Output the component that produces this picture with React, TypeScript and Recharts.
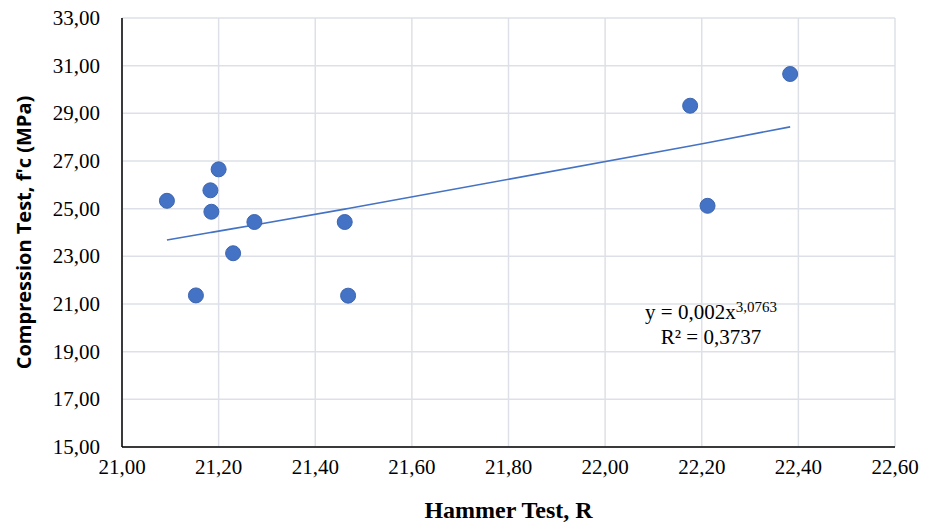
import {
  CartesianGrid,
  Scatter,
  ScatterChart,
  XAxis,
  YAxis,
} from "recharts";

// Rebound hammer reading (R) vs. cylinder compressive strength (MPa)
const hammerR = [
  21.093, 21.2, 21.183, 21.185, 21.274, 21.23, 21.153, 21.461, 21.468, 22.176,
  22.212, 22.383,
];
const strengthFc = [
  25.33, 26.65, 25.77, 24.87, 24.44, 23.13, 21.36, 24.44, 21.35, 29.32, 25.12,
  30.65,
];

const xTicks = [21.0, 21.2, 21.4, 21.6, 21.8, 22.0, 22.2, 22.4, 22.6];
const yTicks = [15, 17, 19, 21, 23, 25, 27, 29, 31, 33];

// power trendline reported on the chart: y = 0,002 x^3,0763
const trendA = 0.002;
const trendB = 3.0763;
const trendR2 = "0,3737";

const points = hammerR.map((x, i) => ({ x, y: strengthFc[i] }));

const trendPoints = [...hammerR]
  .sort((a, b) => a - b)
  .map((x) => ({ x, y: trendA * Math.pow(x, trendB) }));

const fmt = (v: number) => v.toFixed(2).replace(".", ",");

const BLUE = "#4472c4";
const serif = "'Liberation Serif', 'Times New Roman', serif";
const tickStyle = { fontSize: "21px", fontFamily: serif, fill: "#000" };

function Dot(props: any) {
  const { cx, cy } = props;
  if (cx == null || cy == null) return null;
  return (
    <circle cx={cx} cy={cy} r={7.5} fill={BLUE} stroke="#3d66b0" strokeWidth={1} />
  );
}

// tick labels drawn as plain svg text at the axis-supplied positions
const renderXTick = (props: any) => (
  <g key={`xt-${props.index}`} transform={`translate(${props.x},${props.y})`}>
    <text x={0} y={27} textAnchor="middle" style={tickStyle}>
      {fmt(props.payload.value)}
    </text>
  </g>
);

const renderYTick = (props: any) => (
  <g key={`yt-${props.index}`} transform={`translate(${props.x},${props.y})`}>
    <text x={0} y={7} textAnchor="end" style={tickStyle}>
      {fmt(props.payload.value)}
    </text>
  </g>
);

export default function App() {
  return (
    <div
      style={{
        position: "absolute",
        left: 0,
        top: 0,
        width: 931,
        height: 527,
        background: "#fff",
      }}
    >
      <ScatterChart
        width={931}
        height={527}
        margin={{ top: 18, right: 36, bottom: 0, left: 0 }}
      >
        <CartesianGrid stroke="#dde1e7" strokeWidth={1.5} />
        <XAxis
          type="number"
          dataKey="x"
          domain={[21, 22.6]}
          ticks={xTicks}
          height={80}
          tickLine={false}
          tickSize={0}
          tickMargin={0}
          axisLine={{ stroke: "#000", strokeWidth: 1.5 }}
          tick={renderXTick}
          label={{
            value: "Hammer Test, R",
            position: "insideBottom",
            offset: 9,
            style: {
              fontSize: 24,
              fontWeight: 700,
              fill: "#000",
              fontFamily: serif,
            },
          }}
        />
        <YAxis
          type="number"
          dataKey="y"
          domain={[15, 33]}
          ticks={yTicks}
          width={122}
          tickLine={false}
          tickSize={0}
          tickMargin={22}
          axisLine={{ stroke: "#000", strokeWidth: 1.5 }}
          tick={renderYTick}
          label={{
            value: "Compression Test, f'c (MPa)",
            angle: -90,
            position: "insideLeft",
            offset: 24,
            style: {
              textAnchor: "middle",
              fontSize: 20,
              fontWeight: 700,
              fill: "#000",
              fontFamily: "'Open Sans', sans-serif",
            },
          }}
        />
        <Scatter
          data={trendPoints}
          line={{ stroke: BLUE, strokeWidth: 1.6 }}
          lineType="joint"
          shape={() => null}
          isAnimationActive={false}
        />
        <Scatter data={points} shape={Dot} isAnimationActive={false} />
      </ScatterChart>
      <div
        style={{
          position: "absolute",
          left: 611,
          top: 300,
          width: 200,
          textAlign: "center",
          fontFamily: serif,
          fontSize: 21,
          lineHeight: "25px",
          color: "#000",
        }}
      >
        <div>
          y = 0,002x<sup style={{ fontSize: 15, verticalAlign: "7px", lineHeight: 0 }}>3,0763</sup>
        </div>
        <div>R² = {trendR2}</div>
      </div>
    </div>
  );
}
